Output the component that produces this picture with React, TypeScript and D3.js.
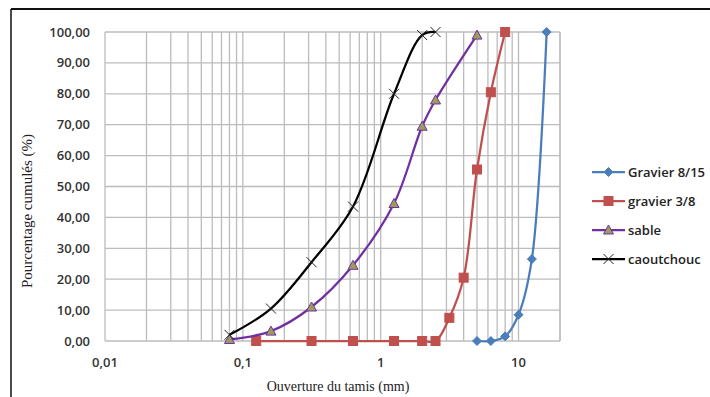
import React from "react";
import * as d3 from "d3";

// ouvertures (mm) et passants cumulés (%)
const gravier815X = [5, 6.3, 8, 10, 12.5, 16];
const gravier815Y = [0, 0, 1.5, 8.5, 26.5, 100];
const gravier38X = [0.125, 0.315, 0.63, 1.25, 2, 2.5, 3.15, 4, 5, 6.3, 8];
const gravier38Y = [0, 0, 0, 0, 0, 0, 7.5, 20.5, 55.5, 80.5, 100];
const sableX = [0.08, 0.16, 0.315, 0.63, 1.25, 2, 2.5, 5];
const sableY = [0.5, 3.2, 11, 24.5, 44.5, 69.5, 78, 99];
const caoutchoucX = [0.08, 0.16, 0.315, 0.63, 1.25, 2, 2.5];
const caoutchoucY = [2, 10.5, 25.5, 43.5, 80, 99, 100];

const seriesNames = ["Gravier 8/15", "gravier 3/8", "sable", "caoutchouc"];
const xTickValues = [0.01, 0.1, 1, 10];
const xTickLabels = ["0,01", "0,1", "1", "10"];
const yTickValues = [0, 10, 20, 30, 40, 50, 60, 70, 80, 90, 100];

const W = 710;
const H = 397;
const tickFont = "'Open Sans', 'DejaVu Sans', sans-serif";
const titleFont = "'Liberation Serif', 'DejaVu Serif', serif";

type Pt = [number, number];

const series = [
  { name: seriesNames[0], xs: gravier815X, ys: gravier815Y, color: "#4a7ebb", marker: "diamond" },
  { name: seriesNames[1], xs: gravier38X, ys: gravier38Y, color: "#c0504d", marker: "square" },
  { name: seriesNames[2], xs: sableX, ys: sableY, color: "#7030a0", marker: "triangle" },
  { name: seriesNames[3], xs: caoutchoucX, ys: caoutchoucY, color: "#000000", marker: "x" },
];

function Marker({ kind, cx, cy, color }: { kind: string; cx: number; cy: number; color: string }) {
  if (kind === "diamond") {
    const r = 4.5;
    return (
      <path
        d={`M${cx},${cy - r}L${cx + r},${cy}L${cx},${cy + r}L${cx - r},${cy}Z`}
        fill={color}
        stroke={color}
        strokeWidth={1}
      />
    );
  }
  if (kind === "square") {
    const r = 4.5;
    return <rect x={cx - r} y={cy - r} width={2 * r} height={2 * r} fill={color} stroke={color} strokeWidth={1} />;
  }
  if (kind === "triangle") {
    const r = 5;
    return (
      <path
        d={`M${cx},${cy - r}L${cx + r},${cy + r * 0.8}L${cx - r},${cy + r * 0.8}Z`}
        fill="#9c9d5c"
        stroke={color}
        strokeWidth={1}
      />
    );
  }
  const r = 5;
  return (
    <path
      d={`M${cx - r},${cy - r}L${cx + r},${cy + r}M${cx - r},${cy + r}L${cx + r},${cy - r}`}
      stroke="#222"
      strokeWidth={1}
      fill="none"
    />
  );
}

export default function App() {
  const x = d3.scaleLog().domain([0.01, 20]).range([105, 560]);
  const y = d3.scaleLinear().domain([0, 100]).range([341, 32]);

  // lignes verticales : graduations mineures du log
  const vGrid: number[] = [];
  for (let p = -2; p <= 1; p++) {
    for (let k = 1; k <= 9; k++) {
      const v = k * Math.pow(10, p);
      if (v <= 20) vGrid.push(v);
    }
  }
  vGrid.push(20);

  const line = d3
    .line<Pt>()
    .x((d) => x(d[0]))
    .y((d) => y(d[1]))
    .curve(d3.curveCatmullRom.alpha(0.5));

  const legendX = 592;
  const legendY = [172, 201, 230, 259];

  return (
    <svg
      width={W}
      height={H}
      style={{ position: "absolute", left: 0, top: 0, background: "#fff" }}
    >
      <rect x={0} y={0} width={W} height={H} fill="#fff" />
      {/* cadre */}
      <line x1={11} y1={9} x2={W} y2={9} stroke="#111" strokeWidth={2} />
      <line x1={11} y1={9} x2={11} y2={H} stroke="#111" strokeWidth={1.5} />

      {/* grille */}
      {vGrid.map((v, i) => (
        <line key={"v" + i} x1={x(v)} x2={x(v)} y1={y(100)} y2={y(0)} stroke="#bcbcbc" strokeWidth={1.3} />
      ))}
      {yTickValues.map((v) => (
        <line key={"h" + v} x1={x(0.01)} x2={x(20)} y1={y(v)} y2={y(v)} stroke="#bcbcbc" strokeWidth={1.3} />
      ))}

      {/* graduations */}
      {yTickValues.map((v) => (
        <text
          key={"yt" + v}
          x={90}
          y={y(v)}
          dy="0.35em"
          textAnchor="end"
          fontFamily={tickFont}
          fontSize={13}
          fontWeight={600}
          fill="#333"
        >
          {v.toFixed(2).replace(".", ",")}
        </text>
      ))}
      {xTickValues.map((v, i) => (
        <text
          key={"xt" + i}
          x={x(v)}
          y={362}
          dy="0.35em"
          textAnchor="middle"
          fontFamily={tickFont}
          fontSize={13}
          fontWeight={600}
          fill="#333"
        >
          {xTickLabels[i]}
        </text>
      ))}

      {/* titres */}
      <text x={338} y={391} textAnchor="middle" fontFamily={titleFont} fontSize={14} fill="#222">
        Ouverture du tamis (mm)
      </text>
      <text
        transform="translate(32,211) rotate(-90)"
        textAnchor="middle"
        fontFamily={titleFont}
        fontSize={15}
        fill="#222"
      >
        Pourcentage cumulés (%)
      </text>

      {/* courbes */}
      {series.map((s) => {
        const pts: Pt[] = s.xs.map((v, i) => [v, s.ys[i]]);
        return (
          <g key={s.name}>
            <path d={line(pts) || ""} fill="none" stroke={s.color} strokeWidth={2.25} />
            {pts.map((p, i) => (
              <Marker key={i} kind={s.marker} cx={x(p[0])} cy={y(p[1])} color={s.color} />
            ))}
          </g>
        );
      })}

      {/* légende */}
      {series.map((s, i) => (
        <g key={"lg" + i}>
          <line x1={legendX} x2={legendX + 33} y1={legendY[i]} y2={legendY[i]} stroke={s.color} strokeWidth={2.25} />
          <Marker kind={s.marker} cx={legendX + 16.5} cy={legendY[i]} color={s.color} />
          <text
            x={legendX + 36}
            y={legendY[i]}
            dy="0.35em"
            fontFamily={tickFont}
            fontSize={13}
            fontWeight={600}
            fill="#222"
          >
            {s.name}
          </text>
        </g>
      ))}
    </svg>
  );
}
